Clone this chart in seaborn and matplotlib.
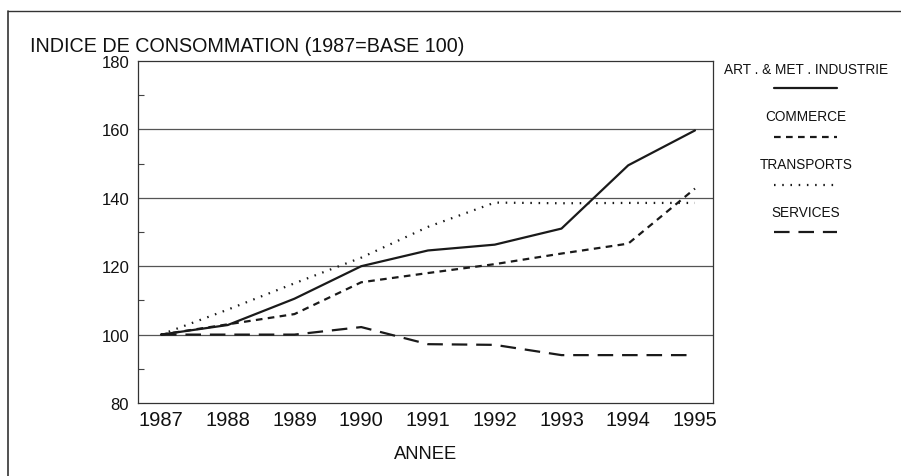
import matplotlib
matplotlib.use("Agg")
import matplotlib.pyplot as plt
from matplotlib.lines import Line2D
from matplotlib.ticker import MultipleLocator
import seaborn as sns
import pandas as pd

years = [1987, 1988, 1989, 1990, 1991, 1992, 1993, 1994, 1995]
industrie = [100, 102.8, 110.5, 120, 124.6, 126.3, 131.0, 149.5, 159.7]
commerce = [100, 103.0, 106.0, 115.3, 118.0, 120.6, 123.7, 126.6, 142.7]
transports = [100, 107.3, 115.0, 122.5, 131.5, 138.6, 138.4, 138.5, 138.5]
services = [100, 100, 100, 102.2, 97.2, 97.0, 94.0, 94.0, 94.0]

series_names = ["ART . & MET . INDUSTRIE", "COMMERCE", "TRANSPORTS", "SERVICES"]
series_vals = [industrie, commerce, transports, services]

df = pd.DataFrame(
    [(y, v, n) for n, vals in zip(series_names, series_vals) for y, v in zip(years, vals)],
    columns=["year", "value", "series"],
)

sns.set_theme(style="white")
plt.rcParams["font.family"] = ["Liberation Sans", "DejaVu Sans"]

fig = plt.figure(figsize=(9.01, 4.77), dpi=100)
ax = fig.add_axes([137.5 / 901, 1 - 404 / 477, (713 - 137.5) / 901, (404 - 62) / 477])

LW = 1.6
dash_map = {
    series_names[0]: "",
    series_names[1]: (3.0, 2.4),
    series_names[2]: (0.7, 3.0),
    series_names[3]: (7.0, 4.0),
}
sns.lineplot(
    data=df, x="year", y="value", hue="series", style="series",
    palette=["#1a1a1a"] * 4, dashes=dash_map, linewidth=LW,
    legend=False, ax=ax, sort=False,
)

ax.set_xlim(1986.648, 1995.27)
ax.set_ylim(80, 180)
ax.set_xticks(years)
ax.set_xticklabels([str(y) for y in years], fontsize=14.5)
ax.yaxis.set_major_locator(MultipleLocator(20))
ax.yaxis.set_minor_locator(MultipleLocator(10))
ax.set_yticklabels([f"{int(t)}" for t in ax.get_yticks()], fontsize=12)
ax.tick_params(axis="x", direction="in", length=5, width=0.8, pad=5, colors="#222222", labelcolor="#111111")
ax.tick_params(axis="y", which="major", direction="in", length=0, pad=6, labelcolor="#111111")
ax.tick_params(axis="y", which="minor", direction="in", length=4, width=0.8, left=True, colors="#444444")
ax.set_xlabel("")
ax.set_ylabel("")
ax.grid(False)
for yv in [100, 120, 140, 160]:
    ax.axhline(yv, color="#555555", linewidth=0.9, zorder=0)
for s in ax.spines.values():
    s.set_color("#333333")
    s.set_linewidth(0.9)

fig.text(30 / 901, 1 - 47 / 477, "INDICE DE CONSOMMATION (1987=BASE 100)",
         fontsize=14.2, va="center", ha="left", color="#111111")
fig.text(426 / 901, 1 - 455 / 477, "ANNEE", fontsize=13.2, va="center", ha="center", color="#111111")

# legend drawn manually: label above line sample
leg_text_y = [70, 117, 165, 213]
leg_line_y = [89, 138, 186, 233]
for name, ty, ly in zip(series_names, leg_text_y, leg_line_y):
    fig.text(806 / 901, 1 - ty / 477, name, fontsize=9.8, ha="center", va="center", color="#111111")
    ls = "-" if dash_map[name] == "" else (0, dash_map[name])
    fig.add_artist(Line2D([774 / 901, 837 / 901], [1 - ly / 477] * 2, color="#1a1a1a",
                          linewidth=LW, linestyle=ls, transform=fig.transFigure))

# outer frame (top and left)
fig.add_artist(Line2D([8 / 901, 1.0], [1 - 12 / 477] * 2, color="#333333", linewidth=1.0,
                      transform=fig.transFigure))
fig.add_artist(Line2D([8 / 901, 8 / 901], [0, 1 - 12 / 477], color="#333333", linewidth=1.2,
                      transform=fig.transFigure))

fig.savefig("out.png", dpi=100)
